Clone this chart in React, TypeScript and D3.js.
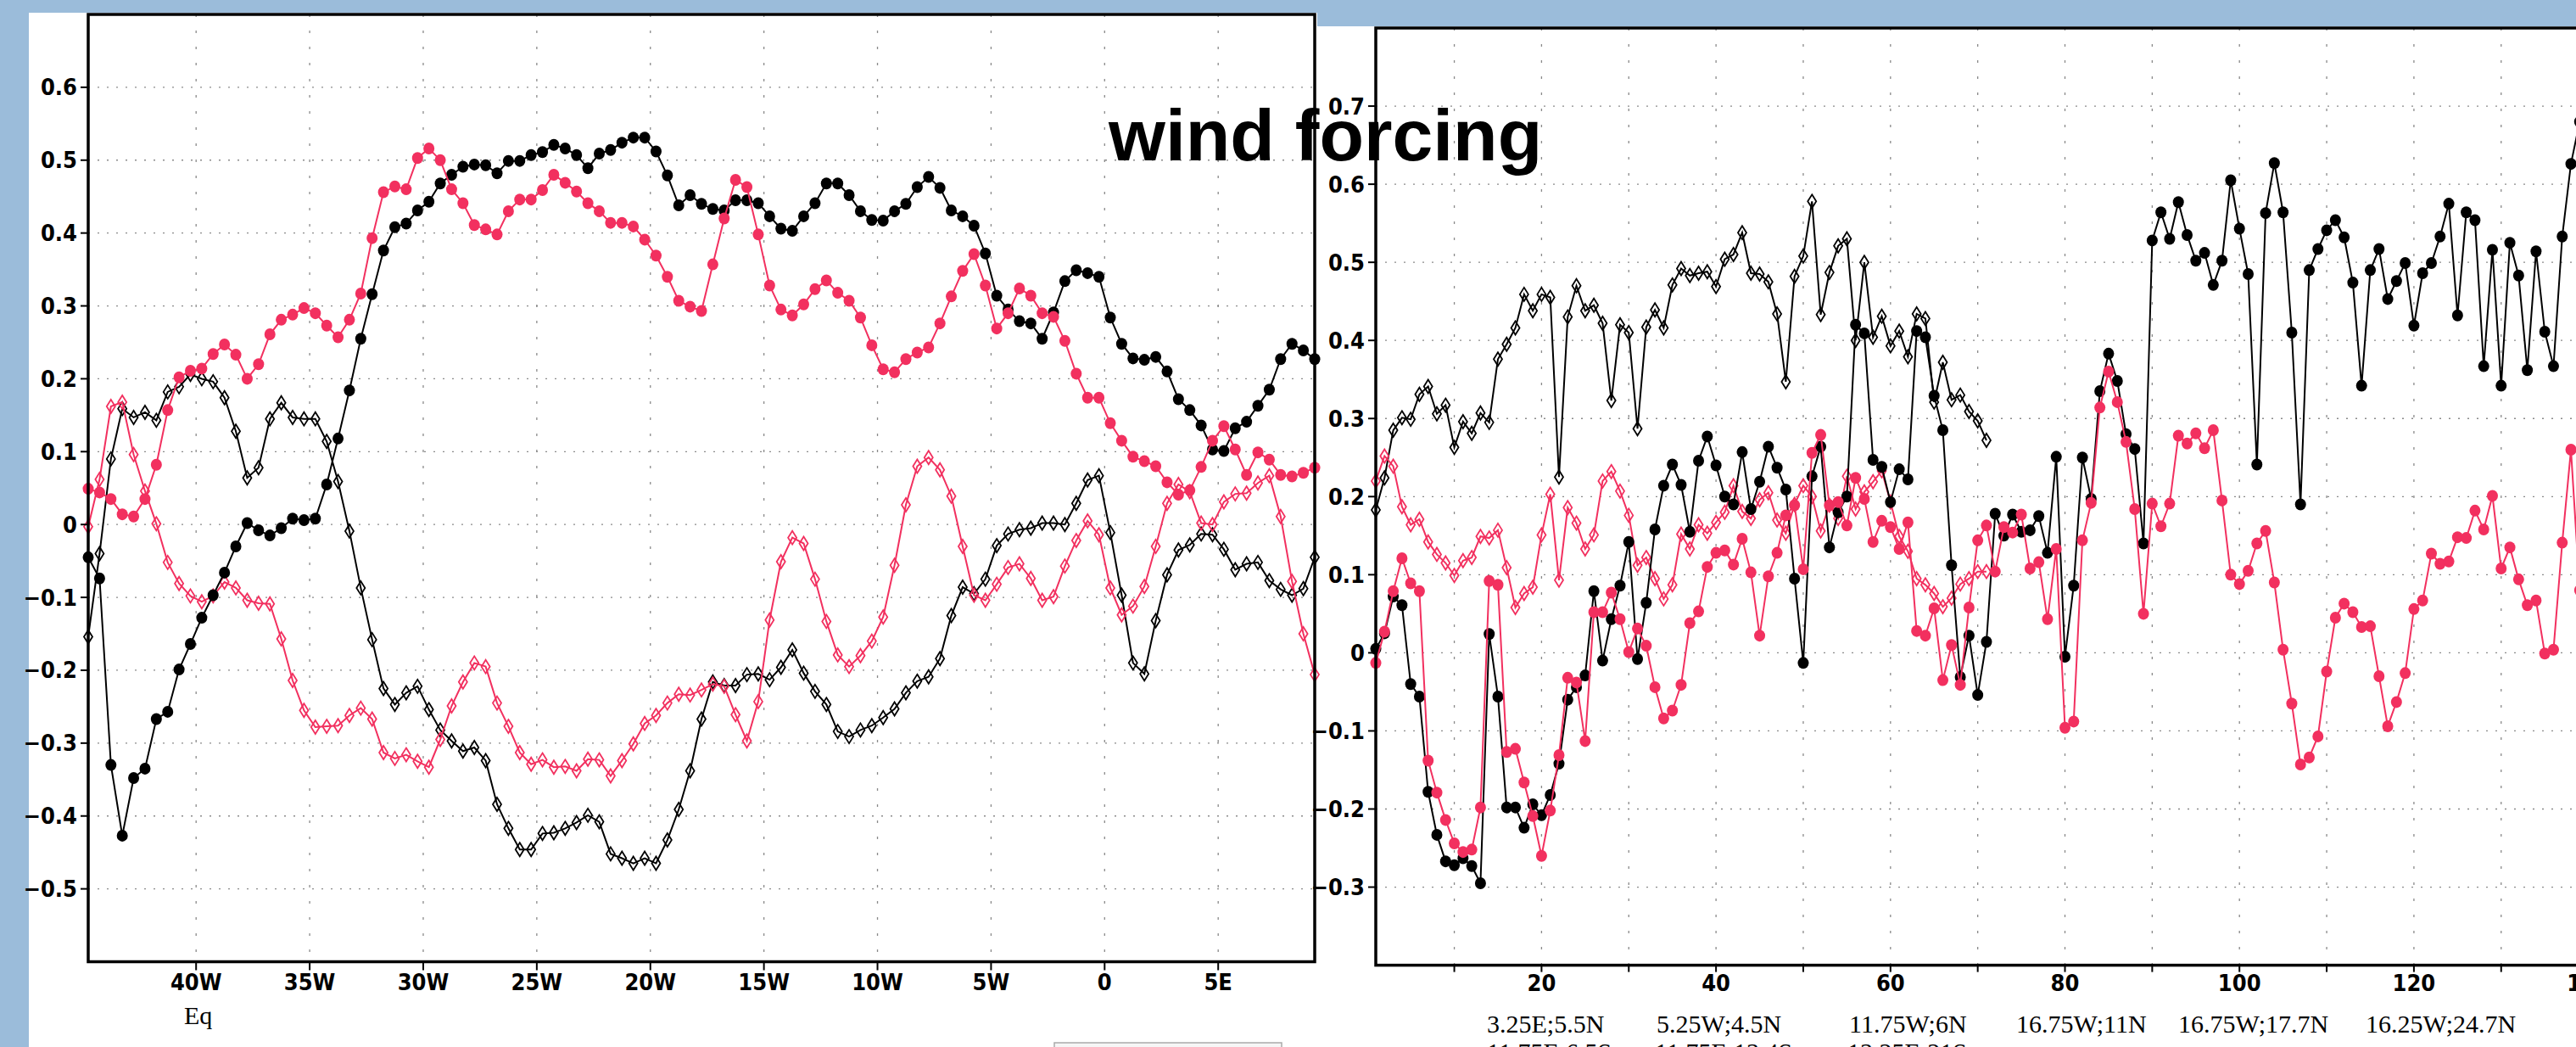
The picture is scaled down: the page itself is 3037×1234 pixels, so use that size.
import React from "react";
import * as d3 from "d3";

// ---------- LEFT PANEL DATA (longitude, 0.5° steps from 44.75W to 9.25E) ----------
const leftLonStart = -44.75;
const leftLonStep = 0.5;
const leftXTicks = [-40, -35, -30, -25, -20, -15, -10, -5, 0, 5];
const leftXTickLabels = ["40W", "35W", "30W", "25W", "20W", "15W", "10W", "5W", "0", "5E"];
const leftYTicks = [-0.5, -0.4, -0.3, -0.2, -0.1, 0, 0.1, 0.2, 0.3, 0.4, 0.5, 0.6];

const leftBlackDots = [-0.045,-0.074,-0.33,-0.427,-0.348,-0.335,-0.267,-0.257,-0.199,-0.164,
 -0.128,-0.097,-0.066,-0.03,0.002,-0.008,-0.015,-0.005,0.008,0.006,
 0.008,0.055,0.118,0.184,0.255,0.316,0.376,0.408,0.413,0.431,
 0.443,0.468,0.48,0.491,0.494,0.493,0.482,0.499,0.499,0.507,
 0.511,0.521,0.516,0.507,0.489,0.509,0.514,0.524,0.531,0.531,
 0.512,0.479,0.438,0.452,0.44,0.433,0.431,0.445,0.445,0.441,
 0.423,0.406,0.403,0.423,0.441,0.468,0.468,0.452,0.43,0.418,
 0.417,0.43,0.44,0.463,0.477,0.462,0.431,0.423,0.41,0.372,
 0.314,0.295,0.279,0.276,0.255,0.291,0.334,0.349,0.345,0.34,
 0.284,0.248,0.228,0.226,0.23,0.21,0.172,0.157,0.136,0.103,
 0.101,0.132,0.141,0.163,0.185,0.227,0.248,0.239,0.227];

const leftPinkDots = [0.049,0.044,0.035,0.014,0.011,0.035,0.082,0.157,0.202,0.211,
 0.214,0.234,0.247,0.233,0.20,0.22,0.261,0.281,0.288,0.297,
 0.29,0.273,0.257,0.281,0.317,0.393,0.456,0.464,0.46,0.503,
 0.516,0.50,0.46,0.441,0.411,0.405,0.398,0.43,0.446,0.446,
 0.459,0.48,0.469,0.457,0.441,0.43,0.414,0.414,0.409,0.391,
 0.369,0.34,0.307,0.299,0.293,0.357,0.42,0.473,0.463,0.398,
 0.328,0.295,0.287,0.302,0.323,0.335,0.318,0.307,0.284,0.246,
 0.213,0.209,0.227,0.236,0.243,0.276,0.313,0.348,0.371,0.328,
 0.269,0.29,0.324,0.314,0.29,0.285,0.252,0.207,0.174,0.174,
 0.139,0.115,0.093,0.087,0.08,0.058,0.041,0.047,0.079,0.115,
 0.135,0.103,0.068,0.099,0.089,0.068,0.066,0.071,0.078];

const leftBlackDiamonds = [-0.154,-0.04,0.09,0.159,0.147,0.154,0.143,0.182,0.189,0.206,
 0.20,0.196,0.174,0.128,0.064,0.078,0.145,0.167,0.147,0.145,
 0.145,0.114,0.059,-0.009,-0.087,-0.158,-0.225,-0.247,-0.231,-0.222,
 -0.254,-0.282,-0.297,-0.311,-0.306,-0.324,-0.384,-0.417,-0.446,-0.446,
 -0.424,-0.423,-0.417,-0.409,-0.399,-0.408,-0.452,-0.458,-0.465,-0.458,
 -0.465,-0.433,-0.391,-0.338,-0.267,-0.216,-0.221,-0.221,-0.206,-0.205,
 -0.213,-0.196,-0.172,-0.204,-0.229,-0.247,-0.284,-0.291,-0.282,-0.276,
 -0.265,-0.253,-0.231,-0.215,-0.209,-0.184,-0.125,-0.086,-0.095,-0.075,
 -0.029,-0.013,-0.007,-0.005,0.002,0.002,0.0,0.029,0.061,0.067,
 -0.011,-0.097,-0.19,-0.205,-0.132,-0.069,-0.035,-0.028,-0.013,-0.014,
 -0.034,-0.062,-0.054,-0.052,-0.077,-0.089,-0.097,-0.088,-0.045];

const leftPinkDiamonds = [-0.003,0.062,0.162,0.168,0.096,0.046,0.001,-0.052,-0.081,-0.098,
 -0.106,-0.098,-0.079,-0.087,-0.104,-0.108,-0.109,-0.157,-0.214,-0.255,
 -0.278,-0.277,-0.276,-0.262,-0.252,-0.267,-0.313,-0.321,-0.316,-0.325,
 -0.333,-0.295,-0.249,-0.216,-0.19,-0.195,-0.245,-0.277,-0.313,-0.329,
 -0.323,-0.333,-0.332,-0.338,-0.322,-0.323,-0.345,-0.324,-0.301,-0.273,
 -0.262,-0.245,-0.233,-0.234,-0.227,-0.219,-0.222,-0.261,-0.297,-0.243,
 -0.131,-0.051,-0.018,-0.026,-0.075,-0.133,-0.179,-0.195,-0.18,-0.16,
 -0.127,-0.056,0.027,0.08,0.092,0.075,0.039,-0.03,-0.097,-0.104,
 -0.082,-0.059,-0.054,-0.074,-0.104,-0.099,-0.057,-0.022,0.005,-0.014,
 -0.087,-0.124,-0.112,-0.085,-0.03,0.029,0.055,0.045,0.002,0.0,
 0.031,0.042,0.043,0.057,0.067,0.011,-0.078,-0.15,-0.206];

// ---------- RIGHT PANEL DATA (index 1..139) ----------
const rightXMajor = [20, 40, 60, 80, 100, 120, 140];
const rightXMinor = [10, 30, 50, 70, 90, 110, 130];
const rightYTicks = [-0.3, -0.2, -0.1, 0, 0.1, 0.2, 0.3, 0.4, 0.5, 0.6, 0.7];

const rightBlackDiamonds = [0.183,0.224,0.285,0.301,0.299,0.331,0.341,0.306,0.317,0.263,
 0.296,0.281,0.307,0.295,0.376,0.395,0.416,0.459,0.438,0.459,
 0.455,0.225,0.43,0.47,0.438,0.445,0.422,0.323,0.42,0.41,
 0.287,0.417,0.439,0.416,0.471,0.492,0.483,0.486,0.488,0.469,
 0.504,0.51,0.538,0.486,0.485,0.475,0.434,0.347,0.482,0.508,
 0.578,0.433,0.487,0.521,0.53,0.40,0.50,0.404,0.431,0.393,
 0.412,0.379,0.434,0.428,0.321,0.372,0.324,0.33,0.309,0.297,
 0.272];

const rightBlackDots = [0.005,0.025,0.072,0.061,-0.04,-0.056,-0.178,-0.233,-0.267,-0.272,
 -0.263,-0.273,-0.295,0.024,-0.056,-0.198,-0.198,-0.224,-0.194,-0.208,
 -0.182,-0.142,-0.06,-0.044,-0.029,0.079,-0.01,0.043,0.086,0.142,
 -0.008,0.064,0.158,0.214,0.241,0.215,0.155,0.246,0.277,0.24,
 0.2,0.19,0.257,0.184,0.219,0.264,0.237,0.209,0.095,-0.013,
 0.226,0.264,0.135,0.18,0.2,0.42,0.409,0.247,0.238,0.193,
 0.235,0.222,0.412,0.404,0.329,0.285,0.112,-0.031,0.022,-0.054,
 0.014,0.178,0.15,0.177,0.155,0.157,0.175,0.128,0.251,-0.005,
 0.086,0.25,0.197,0.335,0.383,0.348,0.28,0.261,0.14,0.528,
 0.564,0.53,0.577,0.535,0.502,0.512,0.471,0.502,0.605,0.543,
 0.485,0.241,0.563,0.627,0.564,0.41,0.19,0.49,0.517,0.541,
 0.554,0.532,0.474,0.342,0.49,0.517,0.453,0.476,0.499,0.419,
 0.486,0.499,0.533,0.575,0.432,0.564,0.554,0.367,0.516,0.342,
 0.525,0.483,0.362,0.514,0.411,0.367,0.533,0.626,0.68];

const rightPinkDots = [-0.013,0.027,0.079,0.121,0.089,0.079,-0.138,-0.179,-0.214,-0.244,
 -0.255,-0.252,-0.198,0.092,0.087,-0.127,-0.123,-0.166,-0.209,-0.26,
 -0.202,-0.131,-0.032,-0.038,-0.113,0.052,0.052,0.077,0.043,0.001,
 0.031,0.009,-0.044,-0.084,-0.074,-0.041,0.038,0.053,0.11,0.128,
 0.131,0.113,0.146,0.103,0.022,0.098,0.128,0.176,0.189,0.107,
 0.256,0.279,0.189,0.193,0.163,0.224,0.197,0.142,0.169,0.161,
 0.133,0.167,0.028,0.022,0.057,-0.035,0.01,-0.041,0.058,0.144,
 0.163,0.104,0.161,0.154,0.177,0.108,0.116,0.043,0.133,-0.096,
 -0.088,0.144,0.192,0.314,0.36,0.321,0.27,0.184,0.05,0.191,
 0.162,0.191,0.278,0.268,0.281,0.262,0.285,0.195,0.1,0.088,
 0.105,0.14,0.156,0.09,0.004,-0.065,-0.143,-0.134,-0.107,-0.024,
 0.045,0.063,0.052,0.033,0.034,-0.03,-0.094,-0.063,-0.026,0.056,
 0.067,0.127,0.114,0.117,0.148,0.147,0.182,0.158,0.201,0.108,
 0.135,0.094,0.061,0.067,-0.001,0.004,0.141,0.26,0.08];

const rightPinkDiamonds = [0.22,0.252,0.239,0.187,0.164,0.171,0.142,0.126,0.115,0.099,
 0.118,0.122,0.149,0.147,0.157,0.109,0.058,0.076,0.084,0.151,
 0.203,0.093,0.186,0.166,0.133,0.151,0.22,0.232,0.207,0.176,
 0.112,0.122,0.095,0.069,0.087,0.152,0.133,0.164,0.153,0.167,
 0.18,0.214,0.181,0.172,0.196,0.205,0.17,0.153,0.19,0.214,
 0.2,0.156,0.189,0.172,0.226,0.184,0.206,0.219,0.233,0.193,
 0.149,0.13,0.095,0.087,0.076,0.059,0.07,0.088,0.095,0.104,
 0.104];

const bottomLabelsRow1 = ["3.25E;5.5N", "5.25W;4.5N", "11.75W;6N", "16.75W;11N", "16.75W;17.7N", "16.25W;24.7N"];
const bottomLabelsRow2 = ["11.75E;6.5S", "11.75E;13.4S", "13.25E;21S"];
const titleText = "wind forcing";

// ---------- STYLE ----------
const PINK = "#F2305F";
const BLUE = "#9BBCDA";
const TICKFONT = "'Liberation Sans Narrow', 'Arial Narrow', 'DejaVu Sans Condensed', 'Liberation Sans', sans-serif";

const diamondPath = "M0,-8L5,0L0,8L-5,0Z";

function Series({ pts, color, marker, width }: any) {
  const line = d3.line<any>().x((d) => d[0]).y((d) => d[1]);
  return (
    <g>
      <path d={line(pts) || ""} fill="none" stroke={color} strokeWidth={width} />
      {pts.map((p: number[], i: number) =>
        marker === "dot" ? (
          <ellipse key={i} cx={p[0]} cy={p[1]} rx={6.5} ry={7} fill={color} />
        ) : (
          <path key={i} d={diamondPath} transform={`translate(${p[0]},${p[1]})`} fill="none" stroke={color} strokeWidth={1.8} />
        )
      )}
    </g>
  );
}

export default function App() {
  // Left scales
  const xL = d3.scaleLinear().domain([-44.75, 9.25]).range([104, 1550]);
  const yL = d3.scaleLinear().domain([-0.6, 0.7]).range([1133.5, 17]);
  // Right scales
  const xR = d3.scaleLinear().domain([1, 150]).range([1622, 1622 + 149 * 10.285]);
  const yR = d3.scaleLinear().domain([-0.4, 0.8]).range([1137.6, 33]);

  const lp = (arr: number[]) => arr.map((v, i) => [xL(leftLonStart + i * leftLonStep), yL(v)]);
  const rp = (arr: number[]) => arr.map((v, i) => [xR(i + 1), yR(v)]);

  const fmt = (v: number) => (Math.abs(v) < 1e-9 ? "0" : d3.format(".1f")(v));

  const L = { x0: 104, x1: 1550, y0: 17, y1: 1133.5 };
  const R = { x0: 1622, x1: 1622 + 149 * 10.285, y0: 33, y1: 1137.6 };

  return (
    <svg width={3037} height={1234} style={{ position: "absolute", left: 0, top: 0, display: "block" }}>
      <rect x={0} y={0} width={3037} height={1234} fill={BLUE} />
      <rect x={34} y={15} width={1519} height={1219} fill="#fff" />
      <rect x={1552} y={31} width={1485} height={1203} fill="#fff" />

      {/* LEFT gridlines */}
      <g stroke="#8a8a8a" strokeWidth={1.3}>
        {leftYTicks.map((t) => (
          <line key={"lgy" + t} x1={L.x0} x2={L.x1} y1={yL(t)} y2={yL(t)} strokeDasharray="2 9" />
        ))}
        {leftXTicks.map((t) => (
          <line key={"lgx" + t} x1={xL(t)} x2={xL(t)} y1={L.y0} y2={L.y1} strokeDasharray="3 16" />
        ))}
      </g>
      {/* RIGHT gridlines */}
      <g stroke="#8a8a8a" strokeWidth={1.3}>
        {rightYTicks.map((t) => (
          <line key={"rgy" + t} x1={R.x0} x2={R.x1} y1={yR(t)} y2={yR(t)} strokeDasharray="2 9" />
        ))}
        {[...rightXMinor, ...rightXMajor].map((t) => (
          <line key={"rgx" + t} x1={xR(t)} x2={xR(t)} y1={R.y0} y2={R.y1} strokeDasharray="3 16" />
        ))}
      </g>

      {/* LEFT series */}
      <Series pts={lp(leftBlackDiamonds)} color="#000" marker="diamond" width={2} />
      <Series pts={lp(leftPinkDiamonds)} color={PINK} marker="diamond" width={2} />
      <Series pts={lp(leftBlackDots)} color="#000" marker="dot" width={2} />
      <Series pts={lp(leftPinkDots)} color={PINK} marker="dot" width={2} />

      {/* RIGHT series */}
      <Series pts={rp(rightBlackDiamonds)} color="#000" marker="diamond" width={2} />
      <Series pts={rp(rightPinkDiamonds)} color={PINK} marker="diamond" width={2} />
      <Series pts={rp(rightBlackDots)} color="#000" marker="dot" width={2} />
      <Series pts={rp(rightPinkDots)} color={PINK} marker="dot" width={2} />

      {/* LEFT frame */}
      <rect x={L.x0} y={L.y0} width={L.x1 - L.x0} height={L.y1 - L.y0} fill="none" stroke="#000" strokeWidth={3.5} />
      {/* RIGHT frame */}
      <rect x={R.x0} y={R.y0} width={R.x1 - R.x0} height={R.y1 - R.y0} fill="none" stroke="#000" strokeWidth={3.5} />

      {/* LEFT axes */}
      <g stroke="#000" strokeWidth={2}>
        {leftYTicks.map((t) => (
          <line key={"lty" + t} x1={L.x0 - 9} x2={L.x0} y1={yL(t)} y2={yL(t)} />
        ))}
        {leftXTicks.map((t) => (
          <line key={"ltx" + t} x1={xL(t)} x2={xL(t)} y1={L.y1} y2={L.y1 + 10} />
        ))}
      </g>
      <g fontFamily={TICKFONT} fontWeight="bold" fontSize={27} fill="#000">
        {leftYTicks.map((t) => (
          <text key={"lly" + t} x={91} y={yL(t)} textAnchor="end" dominantBaseline="central">
            {fmt(t)}
          </text>
        ))}
        {leftXTicks.map((t, i) => (
          <text key={"llx" + t} x={xL(t)} y={1167} textAnchor="middle">
            {leftXTickLabels[i]}
          </text>
        ))}
      </g>

      {/* RIGHT axes */}
      <g stroke="#000" strokeWidth={2}>
        {rightYTicks.map((t) => (
          <line key={"rty" + t} x1={R.x0 - 9} x2={R.x0} y1={yR(t)} y2={yR(t)} />
        ))}
        {[...rightXMinor, ...rightXMajor].map((t) => (
          <line key={"rtx" + t} x1={xR(t)} x2={xR(t)} y1={R.y1} y2={R.y1 + 8} />
        ))}
      </g>
      <g fontFamily={TICKFONT} fontWeight="bold" fontSize={27} fill="#000">
        {rightYTicks.map((t) => (
          <text key={"rly" + t} x={1609} y={yR(t)} textAnchor="end" dominantBaseline="central">
            {fmt(t)}
          </text>
        ))}
        {rightXMajor.map((t) => (
          <text key={"rlx" + t} x={xR(t)} y={1168} textAnchor="middle">
            {t}
          </text>
        ))}
      </g>

      {/* Bottom texts */}
      <g fontFamily="'Liberation Serif', 'Times New Roman', serif" fontSize={30} fill="#000">
        <text x={217} y={1207}>Eq</text>
        {bottomLabelsRow1.map((s, i) => (
          <text key={"b1" + i} x={[1753, 1953, 2180, 2377, 2568, 2789][i]} y={1217}>
            {s}
          </text>
        ))}
        {bottomLabelsRow2.map((s, i) => (
          <text key={"b2" + i} x={[1753, 1951, 2178][i]} y={1250}>
            {s}
          </text>
        ))}
      </g>
      <rect x={1243} y={1229} width={268} height={20} fill="#f6f6f6" stroke="#aaa" strokeWidth={1.5} />

      {/* Title */}
      <text x={1307} y={189} fontFamily="'Liberation Sans', Arial, Helvetica, sans-serif" fontWeight="bold" fontSize={86} fill="#000">
        {titleText}
      </text>
    </svg>
  );
}
